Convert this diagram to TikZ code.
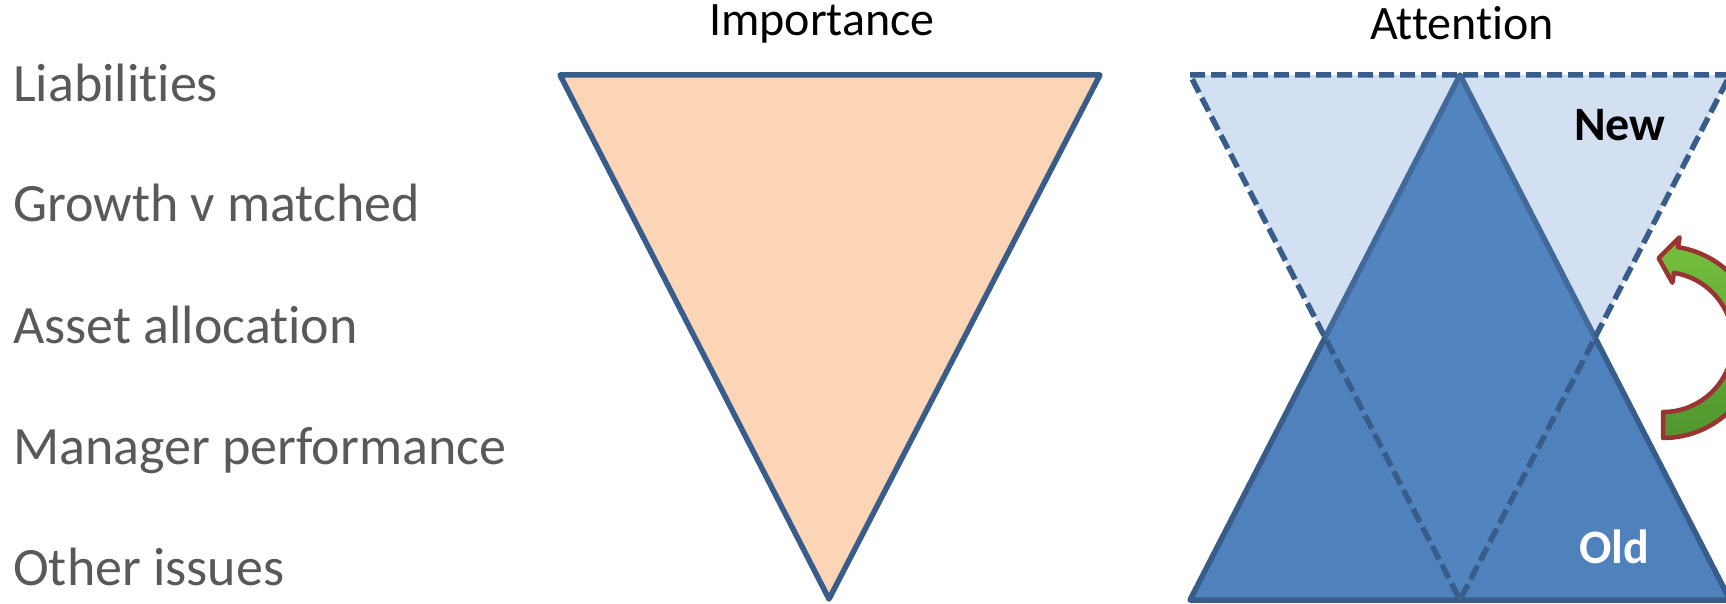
\documentclass[tikz,border=0pt]{standalone}
\usepackage{fontspec}
\setmainfont{Carlito}[Ligatures=NoCommon]
\usetikzlibrary{calc}
\definecolor{edgeblue}{RGB}{56,93,138}
\definecolor{fillblue}{RGB}{79,129,189}
\definecolor{veilblue}{RGB}{92,142,202}
\definecolor{peach}{RGB}{251,213,181}
\definecolor{labelgray}{RGB}{89,89,89}
\definecolor{arrowred}{RGB}{153,52,50}
\definecolor{lightgreen}{RGB}{118,192,62}
\definecolor{darkgreen}{RGB}{80,150,46}
\tikzset{
  issue/.style={anchor=base west, inner sep=0pt,
    font=\fontsize{54}{64}\selectfont, text=labelgray},
  heading/.style={anchor=base, inner sep=0pt,
    font=\fontsize{48}{58}\selectfont},
  tag/.style={anchor=base, inner sep=0pt,
    font=\bfseries\fontsize{48}{58}\selectfont},
  solidtri/.style={draw=edgeblue, line width=5.5pt, line join=round},
  dashtri/.style={draw=edgeblue, line width=5.5pt,
    dash pattern=on 15pt off 6pt, fill=veilblue, fill opacity=0.27},
  turn/.style={draw=arrowred, line width=4.5pt, line join=round,
    top color=lightgreen, bottom color=darkgreen}
}

\begin{document}
\begin{tikzpicture}[x=1pt, y=-1pt]
\useasboundingbox (0,0) rectangle (1726,604);
\clip (0,0) rectangle (1726,604);

% Issues down the left
\node[issue] (liab)    at (13,102) {Liabilities};
\node[issue] (growth)  at (13,222) {Growth v matched};
\node[issue] (asset)   at (13,343) {Asset allocation};
\node[issue] (manager) at (13,464) {Manager performance};
\node[issue] (other)   at (13,585) {Other issues};

% ── Importance ──────────────────────────────────────────────
\filldraw[solidtri, fill=peach] (560,75) -- (1100,75) -- (829,599) -- cycle;
\node[heading] (importance) at (822,36) {Importance};

% ── Attention ──────────────────────────────────────────────
\filldraw[solidtri, fill=fillblue] (1190,600) -- (1730,600) -- (1460,75) -- cycle;
\filldraw[dashtri] (1190,75) -- (1730,75) -- (1460,600) -- cycle;
\node[heading] (attention) at (1462,40) {Attention};
\node[tag] (new) at (1620,141) {New};
\node[tag, text=white] (old) at (1614,563) {Old};

% Shift from old to new
\coordinate (hub) at (1663,342);
\filldraw[turn] ($(hub)+(90:96)$) arc[start angle=90, end angle=-81, radius=96]
  -- ($(hub)+(-81:106)$) -- ($(hub)+(-93:84)$) -- ($(hub)+(-81:60)$)
  -- ($(hub)+(-81:70)$) arc[start angle=-81, end angle=90, radius=70] -- cycle;

\end{tikzpicture}
\end{document}
